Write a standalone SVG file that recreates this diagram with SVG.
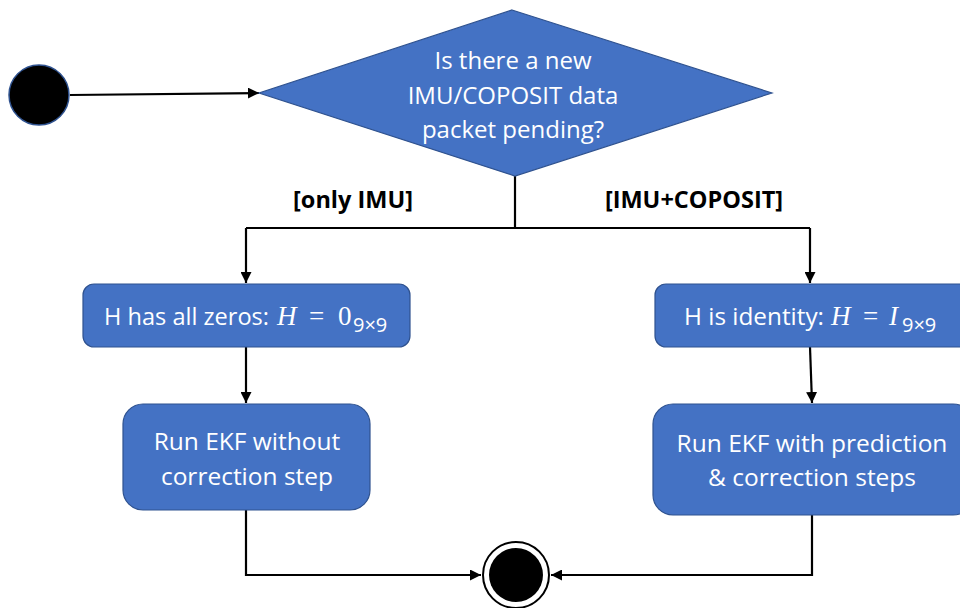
<svg xmlns="http://www.w3.org/2000/svg" width="960" height="608" viewBox="0 0 960 608">
  <style>
    .shape { fill: #4472C4; stroke: #2F528F; stroke-width: 1.2; }
    .txt { font-family: "Open Sans", "Liberation Sans", sans-serif; font-size: 24.5px; fill: #ffffff; text-anchor: middle; }
    .dtxt { font-family: "Open Sans", "Liberation Sans", sans-serif; font-size: 24px; fill: #ffffff; text-anchor: middle; }
    .lbl { font-family: "Open Sans", "Liberation Sans", sans-serif; font-size: 24px; fill: #ffffff; }
    .math { font-family: "Liberation Serif", serif; font-size: 27px; fill: #ffffff; }
    .sub { font-family: "Open Sans", "Liberation Sans", sans-serif; font-size: 20px; fill: #ffffff; }
    .guard { font-family: "Open Sans", "Liberation Sans", sans-serif; font-size: 23.5px; font-weight: bold; fill: #000000; text-anchor: middle; }
    .wire { fill: none; stroke: #000000; stroke-width: 2.2; }
  </style>
  <defs>
    <marker id="arrow" viewBox="0 0 10 10" refX="10" refY="5" markerWidth="5" markerHeight="5" orient="auto" markerUnits="strokeWidth">
      <path d="M0,0 L10,5 L0,10 z" fill="#000000"/>
    </marker>
  </defs>

  <g id="connectors">
    <path class="wire" d="M70,95 L259,93" marker-end="url(#arrow)"/>
    <path class="wire" d="M515,176 L515,228"/>
    <path class="wire" d="M246,228 L810,228"/>
    <path class="wire" d="M246,228 L246,283" marker-end="url(#arrow)"/>
    <path class="wire" d="M810,228 L810,283" marker-end="url(#arrow)"/>
    <path class="wire" d="M246,347 L246,403" marker-end="url(#arrow)"/>
    <path class="wire" d="M810,347 L812,403" marker-end="url(#arrow)"/>
    <path class="wire" d="M246,510 L246,575 L481,575" marker-end="url(#arrow)"/>
    <path class="wire" d="M812,515 L812,575 L551,575" marker-end="url(#arrow)"/>
    <text class="guard" x="353" y="208">[only IMU]</text>
    <text class="guard" x="694" y="208">[IMU+COPOSIT]</text>
  </g>

  <g id="start">
    <circle cx="39" cy="95" r="30" fill="#000000" stroke="#2F528F" stroke-width="1.5"/>
  </g>

  <g id="decision">
    <polygon class="shape" points="512,10 772,93 515,176 259,93"/>
    <text class="dtxt" x="513" y="69">Is there a new</text>
    <text class="dtxt" x="513" y="104">IMU/COPOSIT data</text>
    <text class="dtxt" x="513" y="138">packet pending?</text>
  </g>

  <g id="h-zero">
    <rect class="shape" x="83" y="284" width="327" height="63" rx="11"/>
    <text y="325"><tspan class="lbl" x="104" textLength="165" lengthAdjust="spacingAndGlyphs">H has all zeros:</tspan><tspan class="math" x="277" font-style="italic">H</tspan><tspan class="math" x="309">=</tspan><tspan class="math" x="338">0</tspan><tspan class="sub" x="353" y="332">9×9</tspan></text>
  </g>

  <g id="h-identity">
    <rect class="shape" x="655" y="284" width="320" height="63" rx="11"/>
    <text y="325"><tspan class="lbl" x="684" textLength="140" lengthAdjust="spacingAndGlyphs">H is identity:</tspan><tspan class="math" x="831" font-style="italic">H</tspan><tspan class="math" x="863">=</tspan><tspan class="math" x="889" font-style="italic">I</tspan><tspan class="sub" x="902" y="332">9×9</tspan></text>
  </g>

  <g id="ekf-predict">
    <rect class="shape" x="123" y="404" width="247" height="106" rx="20"/>
    <text class="txt" x="247" y="450">Run EKF without</text>
    <text class="txt" x="247" y="485">correction step</text>
  </g>

  <g id="ekf-full">
    <rect class="shape" x="653" y="404" width="320" height="111" rx="20"/>
    <text class="txt" x="812" y="452">Run EKF with prediction</text>
    <text class="txt" x="812" y="486">&amp; correction steps</text>
  </g>

  <g id="end">
    <circle cx="516" cy="575" r="33" fill="#ffffff" stroke="#000000" stroke-width="2"/>
    <circle cx="516" cy="575" r="27" fill="#000000"/>
  </g>
</svg>
